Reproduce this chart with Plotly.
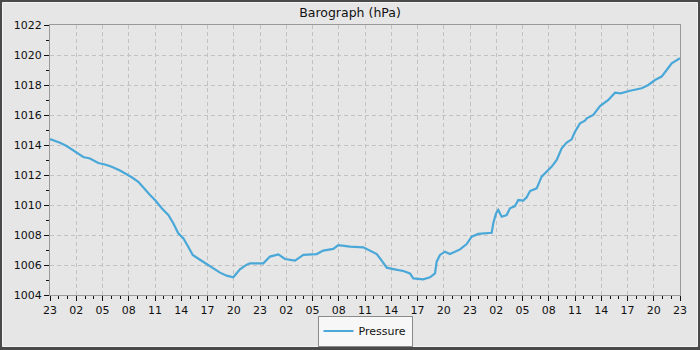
import plotly.graph_objects as go

hours = [0, 1.14, 1.9, 2.55, 3.23, 3.8, 4.57, 5.52, 6.29, 7.05, 8.0, 8.77, 9.34, 10.09,
         10.66, 11.43, 12.0, 12.77, 13.52, 14.09, 14.66, 15.23, 15.8, 16.31, 17.14, 17.91,
         18.66, 19.43, 20.19, 20.95, 21.71, 22.48, 22.86, 24.38, 25.14, 26.09, 26.86, 28.0,
         28.95, 30.48, 31.23, 32.38, 32.95, 34.29, 35.81, 36.57, 37.34, 37.91, 38.48, 39.23,
         40.38, 41.14, 41.52, 42.66, 43.43, 44.0, 44.19, 44.57, 45.14, 45.71, 46.86, 47.62,
         48.19, 48.95, 50.48, 50.66, 50.97, 51.23, 51.62, 52.19, 52.57, 53.14, 53.52, 54.09,
         54.48, 54.86, 55.62, 56.19, 56.76, 57.34, 57.91, 58.48, 59.05, 59.62, 60.0, 60.57,
         61.14, 61.34, 62.09, 62.86, 63.81, 64.57, 65.22, 66.29, 67.62, 68.38, 69.14, 69.9,
         70.48, 71.05, 72.0]
pressure = [1014.4, 1014.15, 1013.93, 1013.67, 1013.44, 1013.2, 1013.1, 1012.8, 1012.7, 1012.55,
            1012.3, 1012.05, 1011.85, 1011.55, 1011.15, 1010.67, 1010.33, 1009.78, 1009.33,
            1008.78, 1008.11, 1007.78, 1007.22, 1006.67, 1006.35, 1006.05, 1005.8, 1005.49,
            1005.29, 1005.18, 1005.71, 1006.02, 1006.11, 1006.11, 1006.56, 1006.71, 1006.4,
            1006.29, 1006.67, 1006.73, 1006.96, 1007.07, 1007.33, 1007.22, 1007.18, 1006.96,
            1006.73, 1006.29, 1005.82, 1005.73, 1005.6, 1005.44, 1005.11, 1005.04, 1005.18,
            1005.44, 1006.22, 1006.67, 1006.89, 1006.73, 1007.04, 1007.4, 1007.89, 1008.07,
            1008.15, 1008.78, 1009.44, 1009.67, 1009.22, 1009.33, 1009.78, 1009.93, 1010.33,
            1010.29, 1010.51, 1010.93, 1011.11, 1011.89, 1012.22, 1012.56, 1013.0, 1013.78,
            1014.16, 1014.38, 1014.89, 1015.44, 1015.62, 1015.78, 1016.0, 1016.6, 1017.0,
            1017.49, 1017.44, 1017.62, 1017.78, 1018.0, 1018.33, 1018.56, 1019.0, 1019.44,
            1019.78]

tick_hours = list(range(0, 73, 3))
tick_labels = ["23", "02", "05", "08", "11", "14", "17", "20"] * 3 + ["23"]
y_ticks = list(range(1004, 1023, 2))

LINE = "#4aa8d8"
BG = "#e6e6e6"
FONT = "DejaVu Sans"

fig = go.Figure()
fig.add_trace(go.Scatter(x=hours, y=pressure, mode="lines", name="Pressure",
                         line=dict(color=LINE, width=2.2)))

# plot area pixels: x 50..680, y 25..295
def px(xp):
    return (xp - 50) / 630.0

def py(yp):
    return (295 - yp) / 270.0

fig.add_shape(type="rect", xref="paper", yref="paper",
              x0=px(2.5), x1=px(697.5), y0=py(346.5), y1=py(2.5),
              fillcolor=BG, line=dict(color="#f4f4f4", width=1), layer="below")

fig.update_layout(
    width=700, height=350,
    margin=dict(l=50, r=20, t=25, b=55, autoexpand=False),
    paper_bgcolor="#4a4a4a",
    plot_bgcolor=BG,
    font=dict(family=FONT, size=11, color="#111111"),
    title=dict(text="Barograph (hPa)", x=0.5, xref="container", xanchor="center",
               y=1 - 12.5 / 350, yref="container", yanchor="middle",
               font=dict(family=FONT, size=12.5, color="#111111")),
    showlegend=True,
    legend=dict(orientation="h", x=0.5, xanchor="center",
                y=3.5 / 350, yref="container", yanchor="bottom",
                bgcolor="#f7f7f7", bordercolor="#8a8a8a", borderwidth=1,
                itemwidth=30, font=dict(family=FONT, size=11, color="#111111")),
)

fig.update_xaxes(range=[0, 72], tickmode="array", tickvals=tick_hours, ticktext=tick_labels,
                 ticks="outside", ticklen=5, tickcolor="#111111", tickwidth=1,
                 showgrid=True, gridcolor="#c2c2c2", griddash="4px,3px", gridwidth=1,
                 showline=True, linecolor="#999999", linewidth=1, mirror=True,
                 zeroline=False,
                 minor=dict(tickvals=list(range(0, 73)), ticks="outside", ticklen=3,
                            tickcolor="#111111", showgrid=False))
fig.update_yaxes(range=[1004, 1022], tickmode="array", tickvals=y_ticks,
                 ticks="outside", ticklen=5, tickcolor="#111111", tickwidth=1,
                 showgrid=True, gridcolor="#c2c2c2", griddash="4px,3px", gridwidth=1,
                 showline=True, linecolor="#999999", linewidth=1, mirror=True,
                 zeroline=False,
                 minor=dict(tickvals=list(range(1005, 1022, 2)), ticks="outside", ticklen=3,
                            tickcolor="#111111", showgrid=False))

fig.write_html("out.html")
